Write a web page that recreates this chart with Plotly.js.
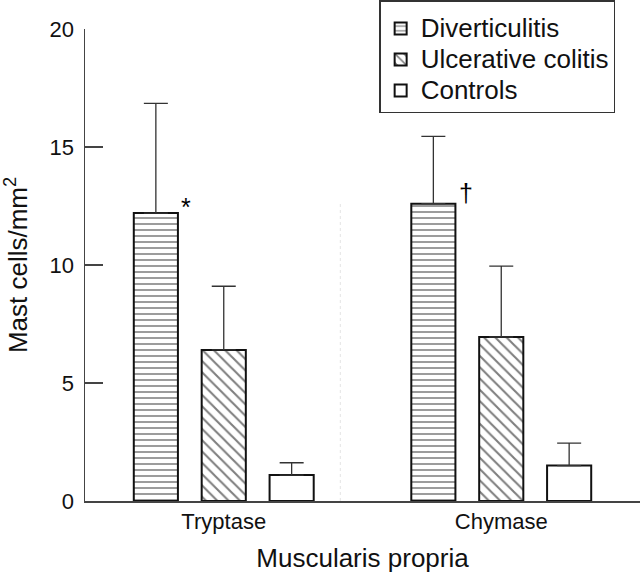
<!DOCTYPE html>
<html>
<head>
<meta charset="utf-8">
<script src="https://cdn.plot.ly/plotly-3.0.1.min.js"></script>
<style>html,body{margin:0;padding:0;background:#fff;}#chart{width:640px;height:573px;}</style>
</head>
<body>
<div id="chart"></div>
<script>
// Data
const categories = ["Tryptase", "Chymase"];
const seriesNames = ["Diverticulitis", "Ulcerative colitis", "Controls"];
const diverticulitis = [12.2, 12.6];
const diverticulitisErr = [4.65, 2.85];
const ulcerativeColitis = [6.4, 6.95];
const ulcerativeColitisErr = [2.7, 3.0];
const controls = [1.1, 1.5];
const controlsErr = [0.52, 0.95];
const yTicks = [0, 5, 10, 15, 20];
const markers = ["*", "\u2020"]; // significance marks on Diverticulitis bars

const FONT = '"Liberation Sans", Arial, Helvetica, sans-serif';
const xIdx = categories.map((c, i) => i);

function barTrace(name, y, err, shape, size) {
  return {
    type: 'bar', name: '<span style="font-size:26px">' + name + '</span>', x: xIdx, y: y,
    marker: {
      color: 'white',
      line: {color: '#111', width: 2},
      pattern: {shape: shape, size: size, solidity: 0.26, fgcolor: '#000', bgcolor: 'white', fillmode: 'overlay'}
    },
    error_y: {type: 'data', symmetric: false, array: err, arrayminus: err.map(() => 0),
              color: '#333', thickness: 1.3, width: 12},
    hoverinfo: 'skip'
  };
}

const traces = [
  barTrace(seriesNames[0], diverticulitis, diverticulitisErr, '-', 6),
  barTrace(seriesNames[1], ulcerativeColitis, ulcerativeColitisErr, '\\', 8),
  barTrace(seriesNames[2], controls, controlsErr, '', 8)
];

const annotations = markers.map((m, i) => ({
  x: xIdx[i] - (i === 0 ? 0.163 : 0.16), y: diverticulitis[i] + (i === 0 ? 0.25 : 0.45),
  xref: 'x', yref: 'y', text: m, showarrow: false,
  font: {family: FONT, size: 25, color: '#000'}, xanchor: 'left'
}));

const layout = {
  width: 640, height: 573,
  margin: {l: 85, r: 0, t: 29, b: 72},
  paper_bgcolor: 'white', plot_bgcolor: 'white',
  font: {family: FONT, color: '#111'},
  barmode: 'group', bargap: 0.266, bargroupgap: 0.35,
  showlegend: true,
  legend: {
    x: 0.53, xanchor: 'left', y: 1.062, yanchor: 'top',
    bordercolor: '#333', borderwidth: 1.5, bgcolor: 'white',
    font: {family: FONT, size: 21.5, color: '#111'},
    title: {text: ' ', font: {family: FONT, size: 5}},
    entrywidth: 212, entrywidthmode: 'pixels',
    tracegroupgap: 0
  },
  xaxis: {
    range: [-0.5, 1.5], tickmode: 'array', tickvals: xIdx, ticktext: categories,
    showline: true, linecolor: '#444', linewidth: 1.5, ticks: '', showgrid: false, zeroline: false,
    tickfont: {family: FONT, size: 22, color: '#111'},
    title: {text: 'Muscularis propria', font: {family: FONT, size: 26, color: '#111'}, standoff: 16}
  },
  yaxis: {
    range: [0, 20], tickmode: 'array', tickvals: yTicks,
    showline: true, linecolor: '#444', linewidth: 1.5,
    ticks: 'inside', ticklen: 18, tickwidth: 1.5, tickcolor: '#444',
    showgrid: false, zeroline: false, ticklabelstandoff: 5,
    tickfont: {family: FONT, size: 22, color: '#111'},
    title: {text: 'Mast cells/mm<sup>2</sup>', font: {family: FONT, size: 26, color: '#111'}, standoff: 14}
  },
  shapes: [{
    type: 'line', xref: 'x', yref: 'y', x0: 0.42, x1: 0.42, y0: 0, y1: 12.6,
    line: {color: '#e4e4e4', width: 1, dash: 'dot'}
  }],
  annotations: annotations
};

Plotly.newPlot('chart', traces, layout, {displayModeBar: false, staticPlot: true});
</script>
</body>
</html>
